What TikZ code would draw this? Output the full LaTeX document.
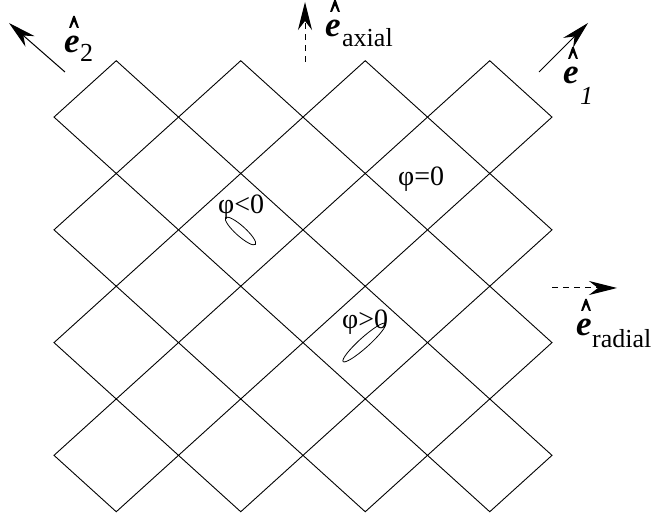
\documentclass[tikz,border=0pt]{standalone}
\usepackage{fontspec}
\setmainfont{Liberation Serif}
\usetikzlibrary{arrows.meta}
\begin{document}
\begin{tikzpicture}[x=1pt,y=-1pt,
  gridline/.style={line width=0.9pt},
  vec/.style={line width=1pt,-{Stealth[length=28pt,width=14pt,inset=9pt]}},
  dvec/.style={vec,dash pattern=on 6pt off 5pt},
  ebold/.style={font=\fontsize{35}{35}\selectfont\bfseries\itshape, inner sep=0pt},
  hatsign/.pic={\fill (-5,5) -- (-0.8,-7) -- (0.8,-7) -- (5,5) -- (3,5) -- (0,-1.8) -- (-3,5) -- cycle;},
  subtxt/.style={font=\fontsize{26}{26}\selectfont, inner sep=0pt},
  subit/.style={font=\fontsize{26}{26}\selectfont\itshape, inner sep=0pt},
  lbl/.style={font=\fontsize{28}{28}\selectfont, inner sep=0pt},
  ell/.style={line width=0.8pt}]
\useasboundingbox (0,0) rectangle (654,521);
% lattice of diamonds
\foreach \i in {0,...,3} {
  \foreach \j in {0,...,3} {
    \draw[gridline] ({116.25+124.5*\i},{117.1+112.75*\j}) +(0,-56.4) -- +(62.25,0) -- +(0,56.4) -- +(-62.25,0) -- cycle;
  }
}
% ellipses
\draw[ell, rotate around={-42:(240.5,231)}] (240.5,231) ellipse (20 and 5);
\draw[ell, rotate around={42:(364.3,342.5)}] (364.3,342.5) ellipse (28.5 and 5);
% angle labels
\node[lbl, anchor=base west] (pneg) at (218,214) {φ<0};
\node[lbl, anchor=base west] (pzero) at (398,186) {φ=0};
\node[lbl, anchor=base west] (ppos) at (342,329) {φ>0};
% basis vectors
\coordinate (e2t) at (65,72); \coordinate (e2h) at (9,23);
\coordinate (e1t) at (539,72); \coordinate (e1h) at (588,23);
\coordinate (eat) at (305,62); \coordinate (eah) at (305,2);
\coordinate (ert) at (552,288); \coordinate (erh) at (617,288);
\draw[vec] (e2t) -- (e2h);
\draw[vec] (e1t) -- (e1h);
\draw[dvec] (eat) -- (eah);
\draw[dvec] (ert) -- (erh);
% vector labels
\node[ebold, anchor=base] (e2) at (72,53) {e};
\pic at ([shift={(2,-30)}]e2.base) {hatsign};
\node[subtxt, anchor=base west] (e2s) at (80,62) {2};
\node[ebold, anchor=base] (ea) at (333,37) {e};
\pic at ([shift={(2,-30)}]ea.base) {hatsign};
\node[subtxt, anchor=base west] (eas) at (342,47) {axial};
\node[ebold, anchor=base] (e1) at (571,84) {e};
\pic at ([shift={(2,-30)}]e1.base) {hatsign};
\node[subit, anchor=base west] (e1s) at (580,105) {1};
\node[ebold, anchor=base] (er) at (584,336) {e};
\pic at ([shift={(2,-30)}]er.base) {hatsign};
\node[subtxt, anchor=base west] (ers) at (592,348) {radial};
\end{tikzpicture}
\end{document}
